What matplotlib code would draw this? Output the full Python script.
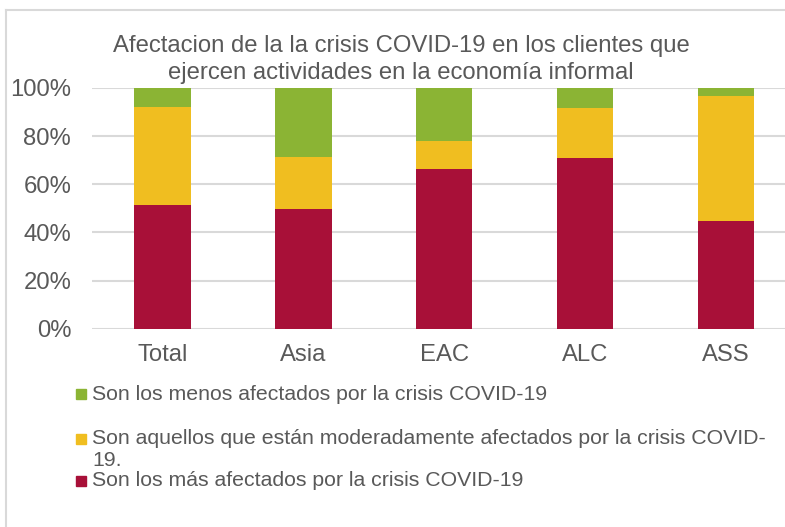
import matplotlib
matplotlib.use("Agg")
import matplotlib.pyplot as plt
from matplotlib.lines import Line2D
from matplotlib.patches import Rectangle
import numpy as np

categories = ["Total", "Asia", "EAC", "ALC", "ASS"]
mas_afectados = [51.4, 49.9, 66.5, 70.8, 44.7]
moderados = [40.7, 21.4, 11.4, 20.9, 52.0]
menos_afectados = [7.9, 28.7, 22.1, 8.3, 3.3]
yticks = [0, 20, 40, 60, 80, 100]
ytick_labels = ["0%", "20%", "40%", "60%", "80%", "100%"]

lab_menos = "Son los menos afectados por la crisis COVID-19"
lab_mod_1 = "Son aquellos que están moderadamente afectados por la crisis COVID-"
lab_mod_2 = "19."
lab_mas = "Son los más afectados por la crisis COVID-19"

RED = "#A81038"
YEL = "#F0BE20"
GRN = "#8BB434"
TXT = "#595959"
GRID = "#D9D9D9"

plt.rcParams['font.family'] = ['Liberation Sans', 'DejaVu Sans']

W, H = 785, 527
fig = plt.figure(figsize=(W / 100, H / 100), dpi=100)

def fx(px):
    return px / W

def fy(py):
    return 1 - py / H

ax = fig.add_axes([fx(92), fy(328.7), fx(785) - fx(92), fy(88) - fy(328.7)])
x = np.arange(len(categories))
bw = 0.40
ax.bar(x, mas_afectados, bw, color=RED, zorder=3)
ax.bar(x, moderados, bw, bottom=mas_afectados, color=YEL, zorder=3)
bot2 = np.array(mas_afectados) + np.array(moderados)
ax.bar(x, menos_afectados, bw, bottom=bot2, color=GRN, zorder=3)

ax.set_xlim(-0.5, 4.418)
ax.set_ylim(0, 100)
ax.set_yticks(yticks)
ax.set_yticklabels(ytick_labels)
ax.set_xticks(x)
ax.set_xticklabels(categories)
ax.tick_params(axis='both', length=0, labelsize=17.2, colors=TXT)
ax.tick_params(axis='y', pad=15)
ax.tick_params(axis='x', pad=11)
ax.yaxis.grid(True, color=GRID, linewidth=1.5, zorder=0)
for s in ax.spines.values():
    s.set_visible(False)

fig.text(fx(401), fy(59.5), "Afectacion de la la crisis COVID-19 en los clientes que\nejercen actividades en la economía informal",
         ha='center', va='center', fontsize=17.2, color=TXT, multialignment='center', linespacing=1.25)

# legend
LFS = 15.3
entries = [(GRN, lab_menos, 394), (YEL, lab_mod_1, 439), (RED, lab_mas, 481)]
for col, lab, py in entries:
    fig.patches.append(Rectangle((fx(76), fy(py + 5)), fx(10), fy(py - 5) - fy(py + 5),
                                 transform=fig.transFigure, color=col, figure=fig))
    fig.text(fx(92), fy(py), lab, ha='left', va='center', fontsize=LFS, color=TXT)
fig.text(fx(92), fy(461), lab_mod_2, ha='left', va='center', fontsize=LFS, color=TXT)

# chart border
fig.add_artist(Line2D([fx(6), fx(6)], [fy(10), 0], color=GRID, linewidth=1.5, transform=fig.transFigure))
fig.add_artist(Line2D([fx(6), 1], [fy(10), fy(10)], color=GRID, linewidth=1.5, transform=fig.transFigure))

fig.savefig("out.png", dpi=100)
